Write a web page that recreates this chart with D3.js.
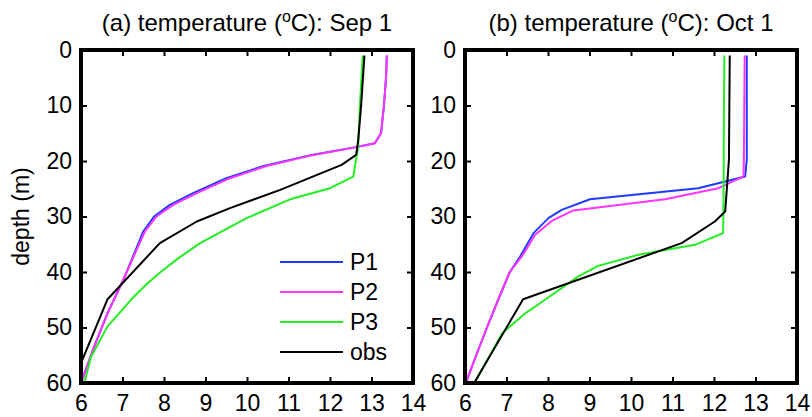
<!DOCTYPE html>
<html>
<head>
<meta charset="utf-8">
<script src="https://cdn.jsdelivr.net/npm/d3@7"></script>
<style>
  body { margin: 0; background: #fff; }
  svg { display: block; font-family: "Liberation Sans", Arial, Helvetica, sans-serif; }
</style>
</head>
<body>
<svg id="chart" width="812" height="417"></svg>
<script>
// ---- data: [temperature (degC), depth (m)] ----
const sepP1 = [[13.37,1],[13.35,5],[13.30,10],[13.23,15],[13.08,16.8],[12.62,17.5],[11.56,18.9],[10.40,20.9],[9.50,23.1],[8.70,25.8],[8.14,27.9],[7.76,30],[7.50,32.7],[7.32,36],[7.02,41.4],[6.64,47.4],[6.32,53.4],[6.00,60]];
const sepP2 = [[13.37,1],[13.35,5],[13.30,10],[13.23,15],[13.08,16.8],[12.64,17.5],[11.60,18.9],[10.47,20.9],[9.59,23.1],[8.79,25.8],[8.22,27.9],[7.82,30],[7.54,32.7],[7.34,36],[7.02,41.4],[6.64,47.4],[6.32,53.4],[6.00,60]];
const sepP3 = [[12.79,1],[12.72,10],[12.68,17.4],[12.56,22.8],[12.00,24.9],[11.04,26.9],[9.99,30.3],[8.87,34.8],[8.35,37.5],[7.92,40],[7.58,42.2],[7.28,44.4],[6.64,49.8],[6.24,55.3],[6.08,60]];
const sepObs = [[12.83,1],[12.75,10],[12.68,16.2],[12.63,18.9],[12.28,20.7],[10.80,25.2],[9.59,28.5],[8.79,30.9],[7.90,34.8],[6.64,44.9],[5.80,60]];

const octP1 = [[12.79,1],[12.79,10],[12.79,19.8],[12.75,22.8],[12.27,23.7],[11.62,24.9],[9.01,26.9],[8.33,28.8],[8.01,30.3],[7.65,33],[7.33,37.2],[7.08,40],[6.80,45],[6.53,50],[6.27,55],[6.02,60]];
const octP2 = [[12.74,1],[12.73,10],[12.72,19.8],[12.71,22.8],[12.10,24.9],[10.82,26.9],[8.61,28.9],[8.09,30.8],[7.69,33.3],[7.37,37.2],[7.08,40],[6.80,45],[6.53,50],[6.27,55],[6.02,60]];
const octP3 = [[12.25,1],[12.24,10],[12.23,27],[12.22,33],[11.54,35.1],[10.18,36.9],[9.21,38.9],[8.73,40.8],[7.93,45],[7.46,47.4],[6.90,51],[6.23,60]];
const octObs = [[12.38,1],[12.37,10],[12.36,19.8],[12.27,29.1],[12.02,30.9],[11.22,34.8],[7.40,44.9],[6.22,60]];

const seriesNames = ["P1", "P2", "P3", "obs"];
const seriesColors = ["#1f3bff", "#ff33ff", "#22ee22", "#000000"];
const xTicks = [6, 7, 8, 9, 10, 11, 12, 13, 14];
const yTicks = [0, 10, 20, 30, 40, 50, 60];

const panels = [
  { title: "(a) temperature (", date: "C): Sep 1", left: 81, series: [sepP1, sepP2, sepP3, sepObs], legend: true },
  { title: "(b) temperature (", date: "C): Oct 1", left: 465, series: [octP1, octP2, octP3, octObs], legend: false }
];

// ---- layout ----
const plotTop = 50, plotW = 332, plotH = 333;
const fontSize = 23;
const svg = d3.select("#chart");

const x = d3.scaleLinear().domain([6, 14]).range([0, plotW]);
const y = d3.scaleLinear().domain([0, 60]).range([0, plotH]);

const line = d3.line().x(d => x(d[0])).y(d => y(d[1]));

panels.forEach((p, i) => {
  const g = svg.append("g").attr("transform", `translate(${p.left},${plotTop})`);

  g.append("clipPath").attr("id", "clip" + i)
    .append("rect").attr("width", plotW).attr("height", plotH);

  // axes with inward ticks
  const styleAxis = sel => {
    sel.select(".domain").remove();
    sel.selectAll(".tick line").attr("stroke", "#000").attr("stroke-width", 2);
    sel.selectAll(".tick text").attr("fill", "#000").style("font-size", fontSize + "px")
      .style("font-family", "'Liberation Sans', Arial, Helvetica, sans-serif");
  };
  g.append("g").attr("transform", `translate(0,${plotH})`)
    .call(d3.axisBottom(x).tickValues(xTicks).tickSizeInner(-6).tickSizeOuter(0).tickPadding(12))
    .call(styleAxis);
  g.append("g")
    .call(d3.axisTop(x).tickValues(xTicks).tickSizeInner(-6).tickSizeOuter(0).tickFormat(""))
    .call(styleAxis);
  g.append("g")
    .call(d3.axisLeft(y).tickValues(yTicks).tickSizeInner(-6).tickSizeOuter(0).tickPadding(9))
    .call(styleAxis);
  g.append("g").attr("transform", `translate(${plotW},0)`)
    .call(d3.axisRight(y).tickValues(yTicks).tickSizeInner(-6).tickSizeOuter(0).tickFormat(""))
    .call(styleAxis);

  // profiles
  g.append("g").attr("clip-path", `url(#clip${i})`)
    .selectAll("path")
    .data(p.series)
    .join("path")
    .attr("d", line)
    .attr("fill", "none")
    .attr("stroke", (d, k) => seriesColors[k])
    .attr("stroke-width", 2)
    .attr("stroke-linejoin", "round");

  // frame
  g.append("rect").attr("width", plotW).attr("height", plotH)
    .attr("fill", "none").attr("stroke", "#000").attr("stroke-width", 4);

  // title with superscript o
  const t = svg.append("text")
    .attr("x", p.left + plotW / 2).attr("y", 31)
    .attr("text-anchor", "middle")
    .style("font-size", "24px");
  t.append("tspan").text(p.title);
  t.append("tspan").attr("dy", -9).style("font-size", "16px").text("o");
  t.append("tspan").attr("dy", 9).text(p.date);

  if (p.legend) {
    const lg = g.append("g").attr("transform", "translate(199,212)");
    seriesNames.forEach((name, k) => {
      lg.append("line")
        .attr("x1", 0).attr("x2", 63)
        .attr("y1", k * 30).attr("y2", k * 30)
        .attr("stroke", seriesColors[k]).attr("stroke-width", 2);
      lg.append("text")
        .attr("x", 70).attr("y", k * 30).attr("dy", "0.35em")
        .style("font-size", fontSize + "px")
        .text(name);
    });
  }
});

// y-axis label
svg.append("text")
  .attr("transform", `translate(28.5,${plotTop + plotH / 2}) rotate(-90)`)
  .attr("text-anchor", "middle")
  .style("font-size", fontSize + "px")
  .text("depth (m)");
</script>
</body>
</html>
